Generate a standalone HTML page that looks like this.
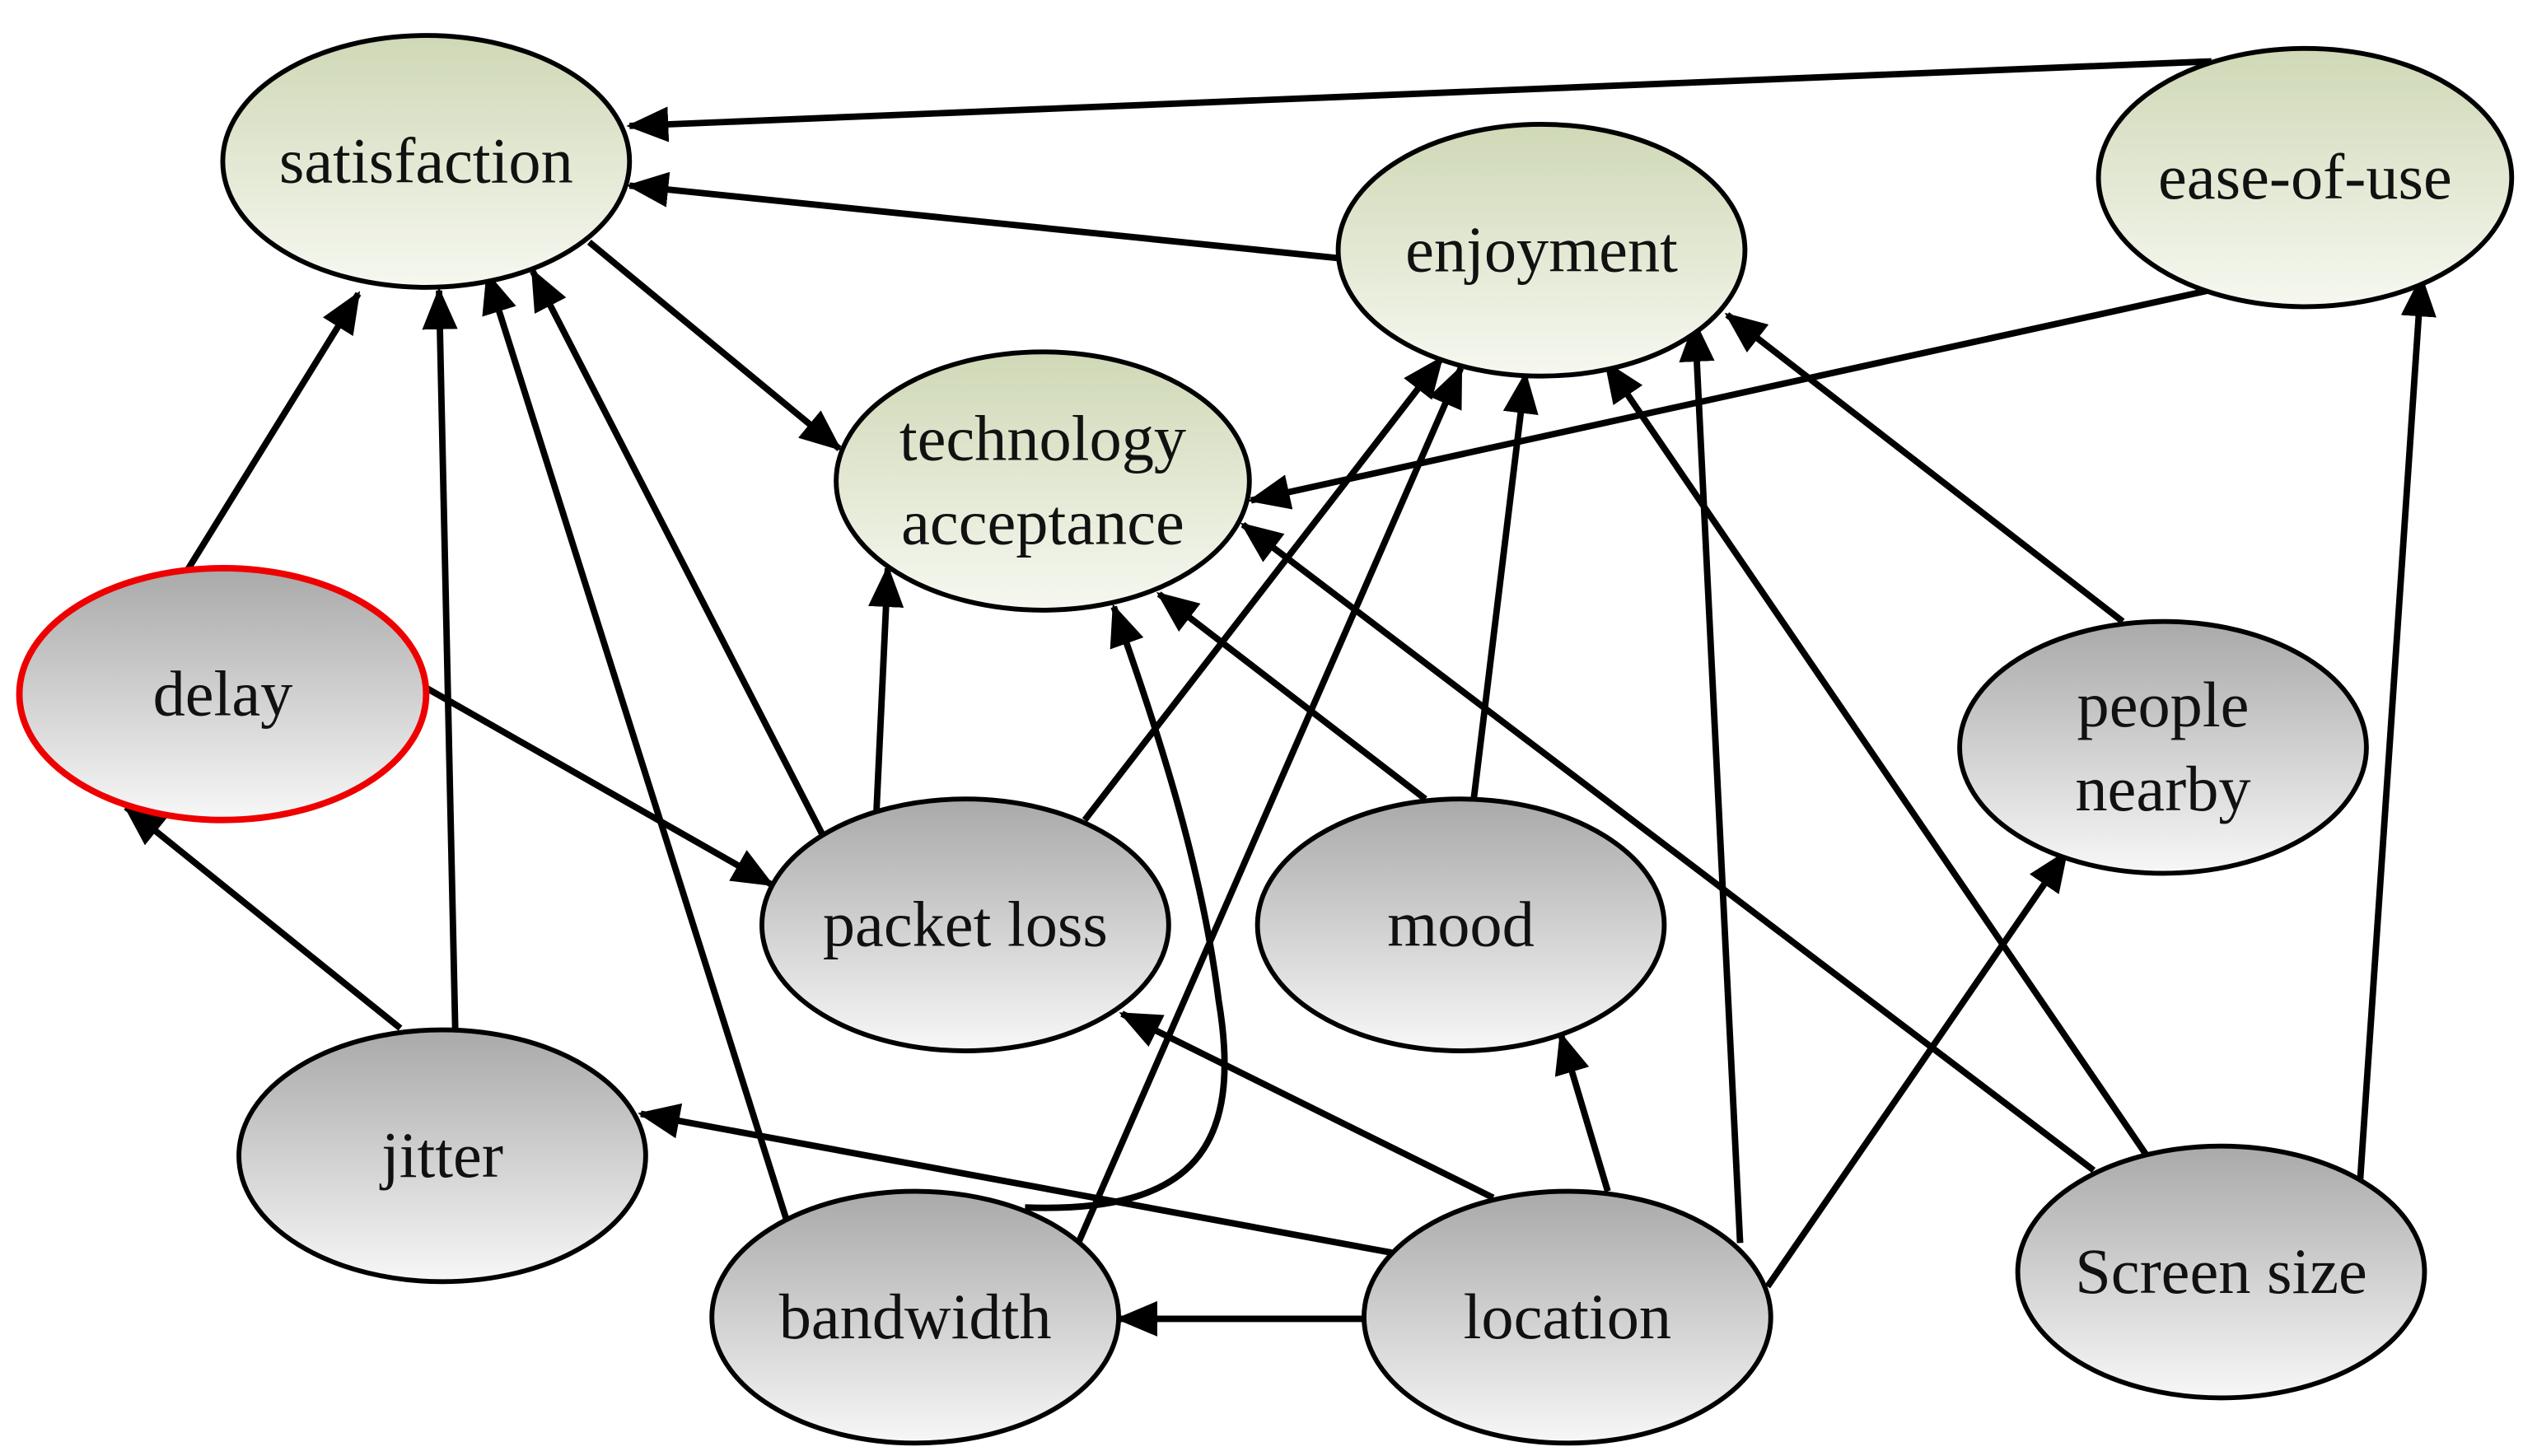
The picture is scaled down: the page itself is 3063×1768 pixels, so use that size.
<!DOCTYPE html>
<html><head><meta charset="utf-8"><style>
html,body{margin:0;padding:0;background:#fff;}
svg{display:block;}
text{font-family:"Liberation Serif",serif;font-size:40px;fill:#111;text-anchor:middle;}
</style></head><body>
<svg width="3063" height="1768" viewBox="0 0 1563 902" preserveAspectRatio="none">
<defs>
<linearGradient id="g" x1="0" y1="0" x2="0" y2="1"><stop offset="0" stop-color="#cfd8b6"/><stop offset="1" stop-color="#f6f8f0"/></linearGradient>
<linearGradient id="k" x1="0" y1="0" x2="0" y2="1"><stop offset="0" stop-color="#a9a9a9"/><stop offset="1" stop-color="#f7f7f7"/></linearGradient>
<marker id="a" markerUnits="userSpaceOnUse" markerWidth="26" markerHeight="22" refX="24" refY="11" orient="auto"><path d="M0,0 L26,11 L0,22 z" fill="#000"/></marker>
</defs>
<g stroke="#000" stroke-width="4" fill="none" marker-end="url(#a)">
<line x1="1370" y1="38" x2="390" y2="78"/>
<line x1="830" y1="160" x2="390" y2="115"/>
<line x1="365" y1="150" x2="520" y2="278"/>
<line x1="1368" y1="180" x2="775" y2="310"/>
<line x1="115" y1="355" x2="222" y2="182"/>
<line x1="282" y1="637" x2="272" y2="180"/>
<line x1="487" y1="755" x2="302" y2="170"/>
<line x1="510" y1="518" x2="330" y2="168"/>
<line x1="262" y1="425" x2="478" y2="548"/>
<line x1="543" y1="502" x2="550" y2="352"/>
<line x1="672" y1="508" x2="893" y2="222"/>
<line x1="668" y1="770" x2="905" y2="228"/>
<path d="M635,748 C740,752 770,710 755,620 C745,540 720,460 690,376"/>
<line x1="913" y1="495" x2="945" y2="232"/>
<line x1="883" y1="495" x2="718" y2="368"/>
<line x1="248" y1="637" x2="78" y2="500"/>
<line x1="862" y1="776" x2="397" y2="690"/>
<line x1="925" y1="742" x2="695" y2="628"/>
<line x1="996" y1="738" x2="967" y2="641"/>
<line x1="845" y1="817" x2="693" y2="817"/>
<line x1="1078" y1="770" x2="1050" y2="200"/>
<line x1="1095" y1="797" x2="1280" y2="528"/>
<line x1="1297" y1="725" x2="770" y2="325"/>
<line x1="1330" y1="716" x2="995" y2="225"/>
<line x1="1462" y1="733" x2="1500" y2="172"/>
<line x1="1315" y1="385" x2="1070" y2="195"/>
</g>
<g stroke="#000" stroke-width="3">
<ellipse cx="264" cy="100" rx="126" ry="78" fill="url(#g)"/>
<ellipse cx="955" cy="155" rx="126" ry="78" fill="url(#g)"/>
<ellipse cx="1428" cy="110" rx="128" ry="80" fill="url(#g)"/>
<ellipse cx="646" cy="298" rx="128" ry="80" fill="url(#g)"/>
<ellipse cx="138" cy="430" rx="126" ry="78" fill="url(#k)" stroke="#e00" stroke-width="4"/>
<ellipse cx="1340" cy="463" rx="126" ry="78" fill="url(#k)"/>
<ellipse cx="598" cy="573" rx="126" ry="78" fill="url(#k)"/>
<ellipse cx="905" cy="573" rx="126" ry="78" fill="url(#k)"/>
<ellipse cx="274" cy="716" rx="126" ry="78" fill="url(#k)"/>
<ellipse cx="567" cy="816" rx="126" ry="78" fill="url(#k)"/>
<ellipse cx="971" cy="816" rx="126" ry="78" fill="url(#k)"/>
<ellipse cx="1376" cy="788" rx="126" ry="78" fill="url(#k)"/>
</g>
<text x="264" y="113">satisfaction</text>
<text x="955" y="168">enjoyment</text>
<text x="1428" y="123">ease-of-use</text>
<text x="646" y="285">technology</text>
<text x="646" y="337">acceptance</text>
<text x="138" y="443">delay</text>
<text x="1340" y="450">people</text>
<text x="1340" y="502">nearby</text>
<text x="598" y="586">packet loss</text>
<text x="905" y="586">mood</text>
<text x="274" y="729">jitter</text>
<text x="567" y="829">bandwidth</text>
<text x="971" y="829">location</text>
<text x="1376" y="801">Screen size</text>
</svg>
</body></html>
